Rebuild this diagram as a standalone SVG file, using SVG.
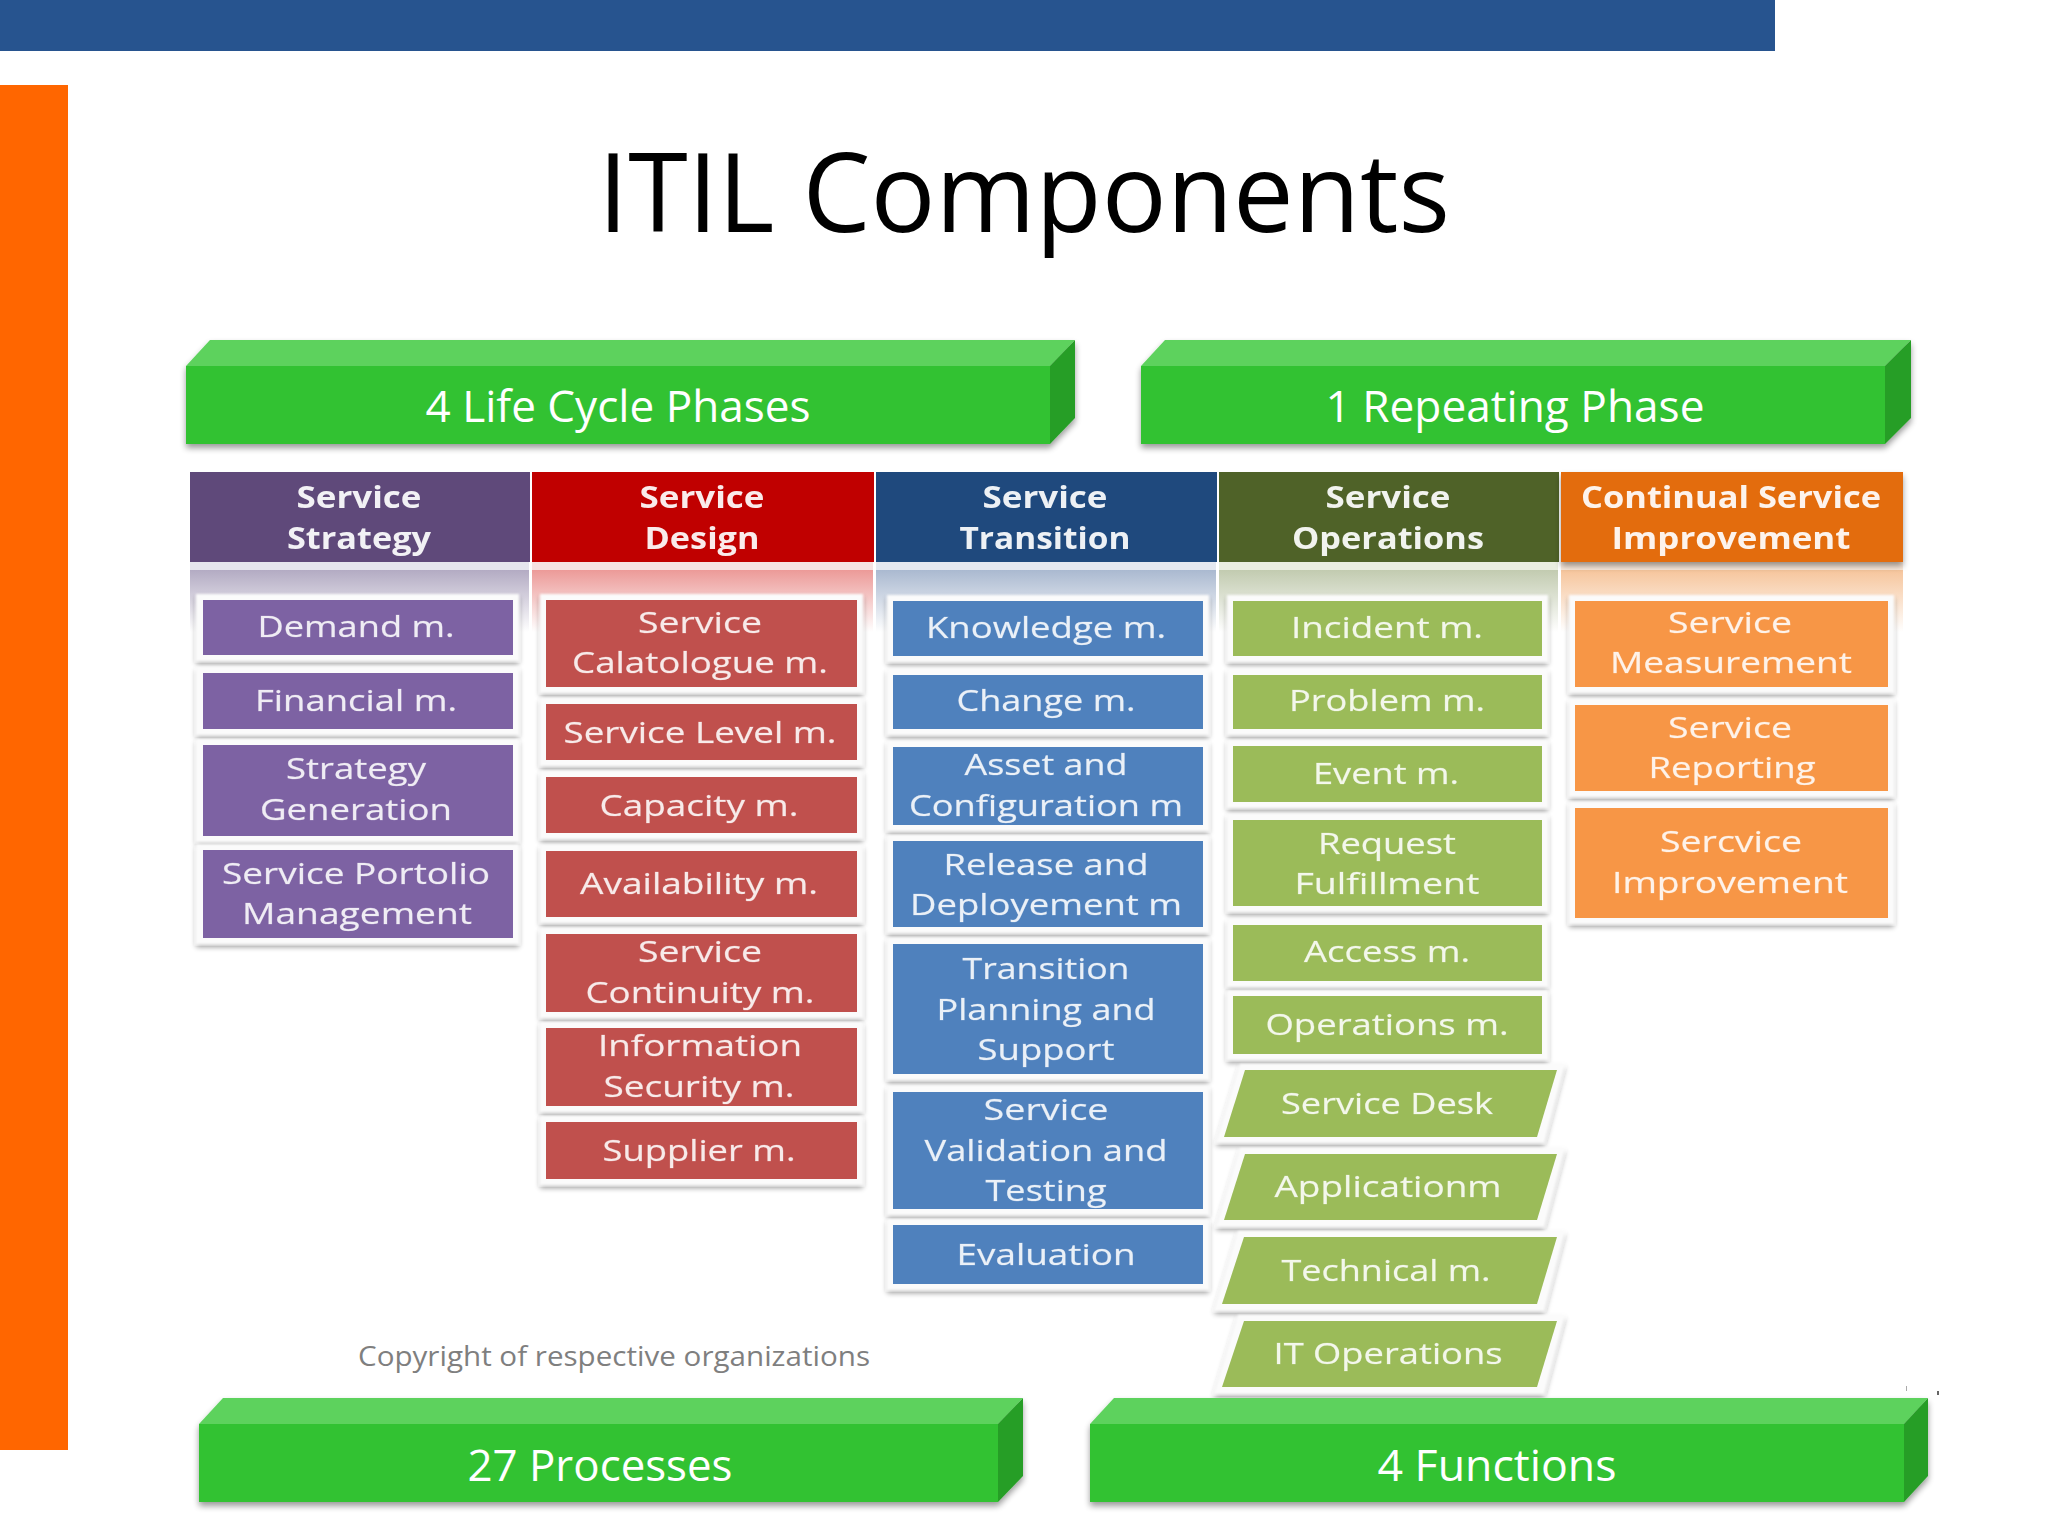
<svg xmlns="http://www.w3.org/2000/svg" width="2048" height="1536" viewBox="0 0 2048 1536">
<defs>
<filter id="sh" x="-5%" y="-10%" width="110%" height="125%"><feGaussianBlur in="SourceAlpha" stdDeviation="3"/><feOffset dy="4"/><feComponentTransfer><feFuncA type="linear" slope="0.4"/></feComponentTransfer><feMerge><feMergeNode/><feMergeNode in="SourceGraphic"/></feMerge></filter>
<filter id="shs" x="-5%" y="-10%" width="110%" height="125%"><feGaussianBlur in="SourceAlpha" stdDeviation="2.5"/><feOffset dy="3"/><feComponentTransfer><feFuncA type="linear" slope="0.4"/></feComponentTransfer><feMerge result="m"><feMergeNode/><feMergeNode in="SourceGraphic"/></feMerge><feGaussianBlur in="m" stdDeviation="0.8"/></filter>
<filter id="soft" x="-5%" y="-20%" width="110%" height="140%"><feGaussianBlur stdDeviation="0.7"/></filter>
<linearGradient id="gP" x1="0" y1="0" x2="0" y2="1"><stop offset="0" stop-color="#b3abc3"/><stop offset="1" stop-color="#fff"/></linearGradient>
<linearGradient id="gR" x1="0" y1="0" x2="0" y2="1"><stop offset="0" stop-color="#ec9a98"/><stop offset="1" stop-color="#fff"/></linearGradient>
<linearGradient id="gB" x1="0" y1="0" x2="0" y2="1"><stop offset="0" stop-color="#aab9d0"/><stop offset="1" stop-color="#fff"/></linearGradient>
<linearGradient id="gG" x1="0" y1="0" x2="0" y2="1"><stop offset="0" stop-color="#c2cbb0"/><stop offset="1" stop-color="#fff"/></linearGradient>
<linearGradient id="gO" x1="0" y1="0" x2="0" y2="1"><stop offset="0" stop-color="#f6c59c"/><stop offset="1" stop-color="#fff"/></linearGradient>
</defs>
<style>
text{font-family:"Open Sans","Liberation Sans",sans-serif;text-anchor:middle}
.t{font-size:30px;fill:#fff;fill-opacity:.88;stroke:#fff;stroke-opacity:.35;stroke-width:.5px;filter:url(#soft);transform:translateY(-.7px)}
.h{font-size:30px;font-weight:700;fill:#fff;fill-opacity:.92;filter:url(#soft)}
.b{font-size:44px;fill:#fff}
.top{fill:#5dd25d}.front{fill:#33c233}.side{fill:#279e27}
.o{fill:#fbfbfb;filter:url(#shs)}
.p{fill:#7d62a3}.r{fill:#c0504d}.l{fill:#4f81bd}.g{fill:#9bbb59}.a{fill:#f79646}
</style>
<rect width="2048" height="1536" fill="#fff"/>
<rect id="top-bar" x="0" y="0" width="1775" height="51" fill="#27548f"/>
<rect id="side-bar" x="0" y="85" width="68" height="1365" fill="#ff6600"/>
<text id="title" x="1024" y="232" font-size="110" fill="#000" textLength="852" lengthAdjust="spacingAndGlyphs">ITIL Components</text>

<g id="banner-life-cycle">
<g filter="url(#sh)"><path class="top" d="M186 366L210 340H1075L1050 366Z"/><path class="front" d="M186 366H1050V444H186Z"/><path class="side" d="M1050 366L1075 340V418L1050 444Z"/></g>
<text class="b" x="618" y="422" textLength="385" lengthAdjust="spacingAndGlyphs">4 Life Cycle Phases</text>
</g>
<g id="banner-repeating">
<g filter="url(#sh)"><path class="top" d="M1141 366L1165 340H1911L1885 366Z"/><path class="front" d="M1141 366H1885V444H1141Z"/><path class="side" d="M1885 366L1911 340V418L1885 444Z"/></g>
<text class="b" x="1515" y="422" textLength="379" lengthAdjust="spacingAndGlyphs">1 Repeating Phase</text>
</g>

<g id="bands">
<rect x="190" y="562" width="339" height="8" fill="#e6e6ee"/><rect x="532" y="562" width="341" height="8" fill="#f6e2e2"/><rect x="876" y="562" width="340" height="8" fill="#e4e8f0"/><rect x="1219" y="562" width="339" height="8" fill="#eaeee0"/><rect x="1561" y="562" width="342" height="8" fill="#fbeadc"/>
<rect x="190" y="570" width="339" height="62" fill="url(#gP)"/><rect x="532" y="570" width="341" height="62" fill="url(#gR)"/><rect x="876" y="570" width="340" height="62" fill="url(#gB)"/><rect x="1219" y="570" width="339" height="62" fill="url(#gG)"/><rect x="1561" y="570" width="342" height="62" fill="url(#gO)"/>
</g>

<g id="header-strategy"><rect x="190" y="472" width="340" height="90" fill="#5f497a"/><text class="h" x="359" y="508" textLength="125" lengthAdjust="spacingAndGlyphs">Service</text><text class="h" x="359" y="549" textLength="144" lengthAdjust="spacingAndGlyphs">Strategy</text></g>
<g id="header-design"><rect x="532" y="472" width="342" height="90" fill="#c00000"/><text class="h" x="702" y="508" textLength="125" lengthAdjust="spacingAndGlyphs">Service</text><text class="h" x="702" y="549" textLength="115" lengthAdjust="spacingAndGlyphs">Design</text></g>
<g id="header-transition"><rect x="876" y="472" width="341" height="90" fill="#1f497d"/><text class="h" x="1045" y="508" textLength="125" lengthAdjust="spacingAndGlyphs">Service</text><text class="h" x="1045" y="549" textLength="171" lengthAdjust="spacingAndGlyphs">Transition</text></g>
<g id="header-operations"><rect x="1219" y="472" width="340" height="90" fill="#4f6228"/><text class="h" x="1388" y="508" textLength="125" lengthAdjust="spacingAndGlyphs">Service</text><text class="h" x="1388" y="549" textLength="192" lengthAdjust="spacingAndGlyphs">Operations</text></g>
<g id="header-csi"><rect x="1561" y="472" width="342" height="90" fill="#e36c0a" filter="url(#sh)"/><text class="h" x="1731" y="508" textLength="300" lengthAdjust="spacingAndGlyphs">Continual Service</text><text class="h" x="1731" y="549" textLength="239" lengthAdjust="spacingAndGlyphs">Improvement</text></g>

<g id="demand"><rect class="o" x="196" y="594" width="323" height="67"/><rect class="p" x="203" y="600" width="310" height="55"/><text class="t" x="356" y="638" textLength="197" lengthAdjust="spacingAndGlyphs">Demand m.</text></g>
<g id="financial"><rect class="o" x="196" y="667" width="323" height="68"/><rect class="p" x="203" y="673" width="310" height="56"/><text class="t" x="356" y="712" textLength="202" lengthAdjust="spacingAndGlyphs">Financial m.</text></g>
<g id="strategy-gen"><rect class="o" x="196" y="739" width="323" height="103"/><rect class="p" x="203" y="745" width="310" height="91"/><text class="t" x="356" y="780" textLength="140" lengthAdjust="spacingAndGlyphs">Strategy</text><text class="t" x="356" y="821" textLength="192" lengthAdjust="spacingAndGlyphs">Generation</text></g>
<g id="portfolio"><rect class="o" x="196" y="844" width="323" height="100"/><rect class="p" x="203" y="850" width="310" height="88"/><text class="t" x="356" y="885" textLength="268" lengthAdjust="spacingAndGlyphs">Service Portolio</text><text class="t" x="357" y="925" textLength="230" lengthAdjust="spacingAndGlyphs">Management</text></g>

<g id="catalogue"><rect class="o" x="540" y="594" width="323" height="99"/><rect class="r" x="546" y="600" width="311" height="87"/><text class="t" x="700" y="634" textLength="124" lengthAdjust="spacingAndGlyphs">Service</text><text class="t" x="700" y="674" textLength="256" lengthAdjust="spacingAndGlyphs">Calatologue m.</text></g>
<g id="level"><rect class="o" x="540" y="698" width="323" height="68"/><rect class="r" x="546" y="704" width="311" height="56"/><text class="t" x="700" y="744" textLength="273" lengthAdjust="spacingAndGlyphs">Service Level m.</text></g>
<g id="capacity"><rect class="o" x="540" y="771" width="323" height="68"/><rect class="r" x="546" y="777" width="311" height="56"/><text class="t" x="699" y="817" textLength="199" lengthAdjust="spacingAndGlyphs">Capacity m.</text></g>
<g id="availability"><rect class="o" x="540" y="845" width="323" height="78"/><rect class="r" x="546" y="851" width="311" height="66"/><text class="t" x="699" y="895" textLength="238" lengthAdjust="spacingAndGlyphs">Availability m.</text></g>
<g id="continuity"><rect class="o" x="540" y="928" width="323" height="90"/><rect class="r" x="546" y="934" width="311" height="78"/><text class="t" x="700" y="963" textLength="124" lengthAdjust="spacingAndGlyphs">Service</text><text class="t" x="700" y="1004" textLength="229" lengthAdjust="spacingAndGlyphs">Continuity m.</text></g>
<g id="infosec"><rect class="o" x="540" y="1022" width="323" height="90"/><rect class="r" x="546" y="1028" width="311" height="78"/><text class="t" x="700" y="1057" textLength="204" lengthAdjust="spacingAndGlyphs">Information</text><text class="t" x="699" y="1098" textLength="191" lengthAdjust="spacingAndGlyphs">Security m.</text></g>
<g id="supplier"><rect class="o" x="540" y="1116" width="323" height="69"/><rect class="r" x="546" y="1122" width="311" height="57"/><text class="t" x="699" y="1162" textLength="193" lengthAdjust="spacingAndGlyphs">Supplier m.</text></g>

<g id="knowledge"><rect class="o" x="887" y="595" width="322" height="67"/><rect class="l" x="893" y="601" width="310" height="55"/><text class="t" x="1046" y="639" textLength="240" lengthAdjust="spacingAndGlyphs">Knowledge m.</text></g>
<g id="change"><rect class="o" x="887" y="669" width="322" height="66"/><rect class="l" x="893" y="675" width="310" height="54"/><text class="t" x="1046" y="712" textLength="179" lengthAdjust="spacingAndGlyphs">Change m.</text></g>
<g id="asset"><rect class="o" x="887" y="741" width="322" height="90"/><rect class="l" x="893" y="747" width="310" height="78"/><text class="t" x="1046" y="776" textLength="163" lengthAdjust="spacingAndGlyphs">Asset and</text><text class="t" x="1046" y="817" textLength="274" lengthAdjust="spacingAndGlyphs">Configuration m</text></g>
<g id="release"><rect class="o" x="887" y="835" width="322" height="98"/><rect class="l" x="893" y="841" width="310" height="86"/><text class="t" x="1046" y="876" textLength="205" lengthAdjust="spacingAndGlyphs">Release and</text><text class="t" x="1046" y="916" textLength="272" lengthAdjust="spacingAndGlyphs">Deployement m</text></g>
<g id="planning"><rect class="o" x="887" y="938" width="322" height="142"/><rect class="l" x="893" y="944" width="310" height="130"/><text class="t" x="1046" y="980" textLength="167" lengthAdjust="spacingAndGlyphs">Transition</text><text class="t" x="1046" y="1021" textLength="219" lengthAdjust="spacingAndGlyphs">Planning and</text><text class="t" x="1046" y="1061" textLength="137" lengthAdjust="spacingAndGlyphs">Support</text></g>
<g id="validation"><rect class="o" x="887" y="1086" width="322" height="129"/><rect class="l" x="893" y="1092" width="310" height="117"/><text class="t" x="1046" y="1121" textLength="125" lengthAdjust="spacingAndGlyphs">Service</text><text class="t" x="1046" y="1162" textLength="243" lengthAdjust="spacingAndGlyphs">Validation and</text><text class="t" x="1046" y="1202" textLength="121" lengthAdjust="spacingAndGlyphs">Testing</text></g>
<g id="evaluation"><rect class="o" x="887" y="1219" width="322" height="71"/><rect class="l" x="893" y="1225" width="310" height="59"/><text class="t" x="1046" y="1266" textLength="179" lengthAdjust="spacingAndGlyphs">Evaluation</text></g>

<g id="incident"><rect class="o" x="1227" y="595" width="321" height="67"/><rect class="g" x="1233" y="601" width="309" height="55"/><text class="t" x="1387" y="639" textLength="192" lengthAdjust="spacingAndGlyphs">Incident m.</text></g>
<g id="problem"><rect class="o" x="1227" y="669" width="321" height="66"/><rect class="g" x="1233" y="675" width="309" height="54"/><text class="t" x="1387" y="712" textLength="196" lengthAdjust="spacingAndGlyphs">Problem m.</text></g>
<g id="event"><rect class="o" x="1227" y="740" width="321" height="68"/><rect class="g" x="1233" y="746" width="309" height="56"/><text class="t" x="1386" y="785" textLength="146" lengthAdjust="spacingAndGlyphs">Event m.</text></g>
<g id="request"><rect class="o" x="1227" y="814" width="321" height="98"/><rect class="g" x="1233" y="820" width="309" height="86"/><text class="t" x="1387" y="855" textLength="138" lengthAdjust="spacingAndGlyphs">Request</text><text class="t" x="1387" y="895" textLength="185" lengthAdjust="spacingAndGlyphs">Fulfillment</text></g>
<g id="access"><rect class="o" x="1227" y="919" width="321" height="68"/><rect class="g" x="1233" y="925" width="309" height="56"/><text class="t" x="1387" y="963" textLength="166" lengthAdjust="spacingAndGlyphs">Access m.</text></g>
<g id="operations"><rect class="o" x="1227" y="990" width="321" height="70"/><rect class="g" x="1233" y="996" width="309" height="58"/><text class="t" x="1387" y="1036" textLength="243" lengthAdjust="spacingAndGlyphs">Operations m.</text></g>

<g id="service-desk"><path class="o" d="M1240 1064H1565L1544 1143H1216Z"/><path class="g" d="M1245 1070H1557L1537 1137H1224Z"/><text class="t" x="1387" y="1115" textLength="212" lengthAdjust="spacingAndGlyphs">Service Desk</text></g>
<g id="application"><path class="o" d="M1240 1148H1565L1544 1227H1216Z"/><path class="g" d="M1245 1154H1557L1537 1220H1224Z"/><text class="t" x="1388" y="1198" textLength="227" lengthAdjust="spacingAndGlyphs">Applicationm</text></g>
<g id="technical"><path class="o" d="M1238 1231H1565L1544 1311H1214Z"/><path class="g" d="M1244 1237H1557L1537 1304H1222Z"/><text class="t" x="1386" y="1282" textLength="209" lengthAdjust="spacingAndGlyphs">Technical m.</text></g>
<g id="it-operations"><path class="o" d="M1238 1315H1565L1544 1394H1214Z"/><path class="g" d="M1244 1321H1557L1537 1387H1222Z"/><text class="t" x="1388" y="1365" textLength="229" lengthAdjust="spacingAndGlyphs">IT Operations</text></g>

<g id="measurement"><rect class="o" x="1569" y="595" width="325" height="98"/><rect class="a" x="1575" y="601" width="313" height="86"/><text class="t" x="1730" y="634" textLength="124" lengthAdjust="spacingAndGlyphs">Service</text><text class="t" x="1731" y="674" textLength="242" lengthAdjust="spacingAndGlyphs">Measurement</text></g>
<g id="reporting"><rect class="o" x="1569" y="699" width="325" height="98"/><rect class="a" x="1575" y="705" width="313" height="86"/><text class="t" x="1730" y="739" textLength="124" lengthAdjust="spacingAndGlyphs">Service</text><text class="t" x="1732" y="779" textLength="167" lengthAdjust="spacingAndGlyphs">Reporting</text></g>
<g id="improvement"><rect class="o" x="1569" y="802" width="325" height="122"/><rect class="a" x="1575" y="808" width="313" height="110"/><text class="t" x="1731" y="853" textLength="142" lengthAdjust="spacingAndGlyphs">Sercvice</text><text class="t" x="1730" y="894" textLength="236" lengthAdjust="spacingAndGlyphs">Improvement</text></g>

<text id="copyright" x="614" y="1366" font-size="27" fill="#7f7f7f" textLength="512" lengthAdjust="spacingAndGlyphs">Copyright of respective organizations</text>

<g id="banner-processes">
<g filter="url(#sh)"><path class="top" d="M199 1424L223 1398H1023L998 1424Z"/><path class="front" d="M199 1424H998V1502H199Z"/><path class="side" d="M998 1424L1023 1398V1476L998 1502Z"/></g>
<text class="b" x="600" y="1481" textLength="265" lengthAdjust="spacingAndGlyphs">27 Processes</text>
</g>
<g id="banner-functions">
<g filter="url(#sh)"><path class="top" d="M1090 1424L1114 1398H1928L1904 1424Z"/><path class="front" d="M1090 1424H1904V1502H1090Z"/><path class="side" d="M1904 1424L1928 1398V1476L1904 1502Z"/></g>
<text class="b" x="1497" y="1481" textLength="239" lengthAdjust="spacingAndGlyphs">4 Functions</text>
</g>
<rect x="1906" y="1386" width="1" height="5" fill="#aaa"/><rect x="1937" y="1391" width="2" height="4" fill="#666"/>
</svg>
